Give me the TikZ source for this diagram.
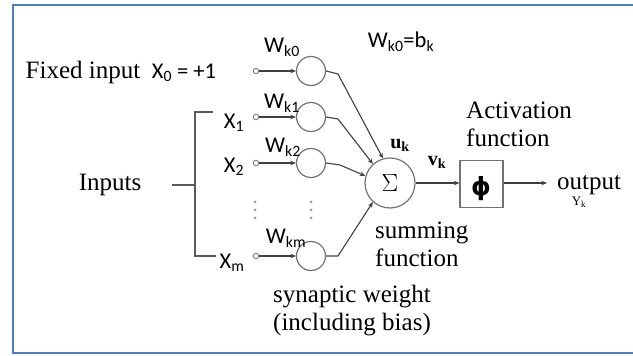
\documentclass[tikz,border=0pt]{standalone}
\usepackage{fontspec}
\setmainfont{Liberation Serif}
\newfontfamily\lbl{Carlito}
\newfontfamily\symf{DejaVu Sans}
\usetikzlibrary{arrows.meta}
\definecolor{frameblue}{HTML}{4F7FC0}
\begin{document}
\begin{tikzpicture}[x=1pt,y=-1pt,
  wt/.style={draw=gray!90!black, line width=1.2pt, circle, minimum size=29pt, inner sep=0pt},
  term/.style={draw=gray, line width=0.9pt, circle, minimum size=5.5pt, inner sep=0pt},
  conn/.style={draw=black!75, line width=1.1pt, -{Stealth[length=5.5pt,width=4.5pt]}},
  plain/.style={draw=black!65, line width=1.2pt},
  ser/.style={font=\fontsize{25}{28}\selectfont, inner sep=0pt},
  san/.style={font=\lbl\fontsize{22.5}{26}\selectfont, inner sep=0pt},
  dotc/.style={fill=gray!80},
]
\useasboundingbox (0,0) rectangle (633,356);
\fill[white] (0,0) rectangle (633,356);
% frame
\draw[frameblue, line width=2pt] (640,5) -- (13,5) -- (13,353) -- (640,353);

% terminals and weights
\node[term] (t0) at (256,71) {};
\node[term] (t1) at (256,117) {};
\node[term] (t2) at (256,163) {};
\node[term] (tm) at (256,256) {};
\node[wt] (w0) at (311,71) {};
\node[wt] (w1) at (311,117) {};
\node[wt] (w2) at (311,163) {};
\node[wt] (wm) at (311,256) {};
\draw[conn] (t0) -- (w0);
\draw[conn] (t1) -- (w1);
\draw[conn] (t2) -- (w2);
\draw[conn] (tm) -- (wm);

% summing junction and activation
\node[wt, minimum size=50pt] (sum) at (390,183) {\fontsize{28}{30}\selectfont$\Sigma$};
\node[draw=gray!90!black, line width=1.2pt, minimum width=43pt, minimum height=47pt, inner sep=0pt] (act) at (481.5,184) {};
\node[inner sep=0pt, font=\symf\bfseries\fontsize{25}{27}\selectfont] (phi) at (481,189) {ϕ};

\draw[conn] (w0.east) -- (338,74) -- (sum.106);
\draw[conn] (w1.east) -- (338,119) -- (sum.132);
\draw[conn] (w2.east) -- (340,165) -- (sum.164);
\draw[conn] (wm.east) -- (338,256) -- (sum.228);
\draw[conn] (sum) -- (sum -| act.west);

% output
\node[ser, anchor=base west] (out) at (557,189) {output};
\node[inner sep=0pt, font=\fontsize{13}{13}\selectfont] (yk) at (579,202) {Y\textsubscript{k}};
\draw[conn] (sum -| act.east) -- (sum -| 547,0);

% bracket for inputs
\coordinate (bt) at (213,112);
\coordinate (btc) at (195,112);
\coordinate (bbc) at (195,256);
\coordinate (bb) at (216,256);
\coordinate (bmid) at (195,185);
\coordinate (btick) at (172,185);
\draw[plain] (bt) -- (btc) -- (bbc) -- (bb);
\draw[plain] (btick) -- (bmid);

% dots
\foreach \x in {255,311}{
  \foreach \y in {202,210,218}{
    \fill[dotc] (\x,\y) circle (1.5pt);
  }
}

% labels
\node[ser] (fixed) at (83,72) {Fixed input};
\node[san] (x0) at (184,73) {X\textsubscript{0} = +1};
\node[ser] (inputs) at (110,185) {Inputs};
\node[san] (x1) at (234,123) {X\textsubscript{1}};
\node[san] (x2) at (234,167) {X\textsubscript{2}};
\node[san] (xm) at (232,263) {X\textsubscript{m}};
\node[san] (lw0) at (282,47) {W\textsubscript{k0}};
\node[san] (lw1) at (282,103) {W\textsubscript{k1}};
\node[san] (lw2) at (283,147) {W\textsubscript{k2}};
\node[san] (lwm) at (286,238) {W\textsubscript{km}};
\node[san] (bias) at (401,42) {W\textsubscript{k0}=b\textsubscript{k}};
\node[ser, font=\bfseries\fontsize{20}{22}\selectfont] (uk) at (400,145) {u\textsubscript{k}};
\node[ser, font=\bfseries\fontsize{20}{22}\selectfont] (vk) at (437,162) {v\textsubscript{k}};
\node[ser, align=left, anchor=west] (actlbl) at (466,124) {Activation\\function};
\node[ser, align=left, anchor=west] (sumlbl) at (375,244) {summing\\function};
\node[ser, align=left, anchor=west] (syn) at (273,311) {synaptic weight\\(including bias)};
\end{tikzpicture}
\end{document}
